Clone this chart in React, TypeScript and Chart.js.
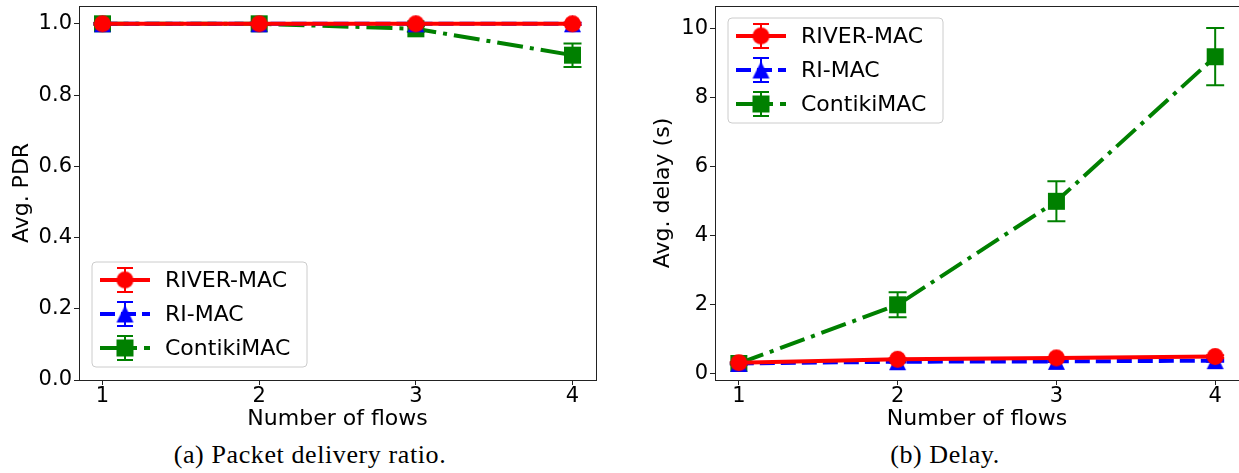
import React, { useEffect, useRef } from "react";
import { Chart, registerables } from "chart.js";

Chart.register(...registerables);

// ---------------- data ----------------
const FLOWS = [1, 2, 3, 4];
const X_TICKS = [1, 2, 3, 4];
const SERIES_NAMES = ["RIVER-MAC", "RI-MAC", "ContikiMAC"];

const PDR_RIVER = [1.0, 1.0, 1.0, 1.0];
const PDR_RIVER_ERR = [0.002, 0.002, 0.002, 0.003];
const PDR_RIMAC = [1.0, 1.0, 1.0, 1.0];
const PDR_RIMAC_ERR = [0.002, 0.002, 0.002, 0.003];
const PDR_CONTIKI = [1.0, 1.0, 0.986, 0.912];
const PDR_CONTIKI_ERR = [0.003, 0.003, 0.008, 0.033];
const PDR_TICKS = [0, 0.2, 0.4, 0.6, 0.8, 1.0];

const DELAY_RIVER = [0.3, 0.4, 0.44, 0.48];
const DELAY_RIVER_ERR = [0.02, 0.03, 0.03, 0.04];
const DELAY_RIMAC = [0.28, 0.33, 0.34, 0.36];
const DELAY_RIMAC_ERR = [0.02, 0.02, 0.02, 0.03];
const DELAY_CONTIKI = [0.28, 1.98, 4.98, 9.17];
const DELAY_CONTIKI_ERR = [0.03, 0.36, 0.58, 0.83];
const DELAY_TICKS = [0, 2, 4, 6, 8, 10];

const CAPTION_A = "(a) Packet delivery ratio.";
const CAPTION_B = "(b) Delay.";

// ---------------- styling ----------------
const COLORS = ["#ff0000", "#0000ff", "#008000"];
const MARKERS = ["circle", "triangle", "square"];
const DASHES: number[][] = [[], [15, 6], [26, 7, 4, 7]];
const ORDERS = [0, 1, 2];
const FONT = "'DejaVu Sans', sans-serif";

function makeMarker(shape: string, color: string, size = 17) {
  const s = size + 2;
  const c = document.createElement("canvas");
  c.width = s;
  c.height = s;
  const ctx = c.getContext("2d")!;
  ctx.fillStyle = color;
  const h = size / 2;
  const cx = s / 2;
  const cy = s / 2;
  ctx.beginPath();
  if (shape === "circle") ctx.arc(cx, cy, h, 0, Math.PI * 2);
  else if (shape === "square") ctx.rect(cx - h, cy - h, size, size);
  else {
    ctx.moveTo(cx, cy - h);
    ctx.lineTo(cx + h, cy + h);
    ctx.lineTo(cx - h, cy + h);
    ctx.closePath();
  }
  ctx.fill();
  return c;
}

function buildDatasets(values: number[][], errors: number[][]) {
  return values.map((vals, i) => ({
    label: SERIES_NAMES[i],
    data: FLOWS.map((x, j) => ({ x, y: vals[j] })),
    errors: errors[i],
    borderColor: COLORS[i],
    backgroundColor: COLORS[i],
    borderWidth: 4,
    borderDash: DASHES[i],
    borderCapStyle: "butt",
    pointStyle: makeMarker(MARKERS[i], COLORS[i]),
    pointRadius: 8,
    pointHoverRadius: 8,
    tension: 0,
    fill: false,
    clip: false,
    order: ORDERS[i],
  }));
}

function drawErrorBar(ctx: CanvasRenderingContext2D, x: number, yTop: number, yBot: number, color: string, capHalf: number) {
  ctx.save();
  ctx.strokeStyle = color;
  ctx.lineWidth = 2;
  ctx.setLineDash([]);
  ctx.beginPath();
  ctx.moveTo(x, yTop);
  ctx.lineTo(x, yBot);
  ctx.moveTo(x - capHalf, yTop);
  ctx.lineTo(x + capHalf, yTop);
  ctx.moveTo(x - capHalf, yBot);
  ctx.lineTo(x + capHalf, yBot);
  ctx.stroke();
  ctx.restore();
}

function makePlugin(legendCorner: "lowerLeft" | "upperLeft") {
  return {
    id: "decor",
    beforeDatasetsDraw(chart: any) {
      const { ctx } = chart;
      const xs = chart.scales.x;
      const ys = chart.scales.y;
      const dsList = chart.data.datasets.map((d: any, i: number) => ({ d, i }));
      dsList.sort((a: any, b: any) => b.d.order - a.d.order);
      dsList.forEach(({ d }: any) => {
        d.data.forEach((p: any, j: number) => {
          const e = d.errors[j];
          const px = xs.getPixelForValue(p.x);
          drawErrorBar(ctx, px, ys.getPixelForValue(p.y + e), ys.getPixelForValue(p.y - e), d.borderColor, 9);
        });
      });
    },
    afterDatasetsDraw(chart: any) {
      const { ctx, chartArea } = chart;
      const { left, right, top, bottom } = chartArea;
      // frame
      ctx.save();
      ctx.strokeStyle = "#222";
      ctx.lineWidth = 1;
      ctx.setLineDash([]);
      ctx.strokeRect(Math.round(left) + 0.5, Math.round(top) + 0.5, Math.round(right - left), Math.round(bottom - top));
      ctx.restore();

      // legend
      const w = 215;
      const h = 105;
      const lx = left + 13;
      const ly = legendCorner === "lowerLeft" ? bottom - 13 - h : top + 12;
      ctx.save();
      ctx.beginPath();
      const r = 4;
      ctx.moveTo(lx + r, ly);
      ctx.arcTo(lx + w, ly, lx + w, ly + h, r);
      ctx.arcTo(lx + w, ly + h, lx, ly + h, r);
      ctx.arcTo(lx, ly + h, lx, ly, r);
      ctx.arcTo(lx, ly, lx + w, ly, r);
      ctx.closePath();
      ctx.fillStyle = "rgba(255,255,255,0.8)";
      ctx.fill();
      ctx.strokeStyle = "#cccccc";
      ctx.lineWidth = 1;
      ctx.stroke();
      chart.data.datasets.forEach((d: any, i: number) => {
        const cy = ly + 18 + i * 34;
        const x0 = lx + 8;
        const x1 = lx + 58;
        const cx = (x0 + x1) / 2;
        ctx.save();
        ctx.strokeStyle = d.borderColor;
        ctx.lineWidth = 4;
        ctx.lineCap = "butt";
        ctx.setLineDash(d.borderDash);
        ctx.beginPath();
        ctx.moveTo(x0, cy);
        ctx.lineTo(x1, cy);
        ctx.stroke();
        ctx.restore();
        drawErrorBar(ctx, cx, cy - 12, cy + 12, d.borderColor, 8);
        const m = d.pointStyle;
        ctx.drawImage(m, cx - m.width / 2, cy - m.height / 2);
        ctx.fillStyle = "#000";
        ctx.font = `22px ${FONT}`;
        ctx.textBaseline = "middle";
        ctx.textAlign = "left";
        ctx.fillText(d.label, lx + 73, cy + 1);
      });
      ctx.restore();
    },
  };
}

function zeroPad(s: any) {
  s.paddingTop = 0;
  s.paddingBottom = 0;
  s.paddingLeft = 0;
  s.paddingRight = 0;
}

function buildConfig(opts: {
  values: number[][];
  errors: number[][];
  yMin: number;
  yMax: number;
  yTicks: number[];
  yFmt: (v: number) => string;
  yTitle: string;
  yWidth: number;
  yTitlePad: number;
  padRight: number;
  legendCorner: "lowerLeft" | "upperLeft";
}) {
  return {
    type: "line",
    data: { datasets: buildDatasets(opts.values, opts.errors) },
    options: {
      responsive: false,
      devicePixelRatio: 1,
      animation: false,
      events: [],
      layout: { autoPadding: false, padding: { top: 6, right: opts.padRight, left: 0, bottom: 0 } },
      plugins: { legend: { display: false }, tooltip: { enabled: false } },
      scales: {
        x: {
          type: "linear",
          min: 0.85,
          max: 4.15,
          afterBuildTicks: (s: any) => {
            s.ticks = X_TICKS.map((v) => ({ value: v }));
          },
          afterFit: (s: any) => {
            s.height = 60;
            zeroPad(s);
          },
          grid: { display: true, drawOnChartArea: false, drawTicks: true, tickLength: 5, tickColor: "#222", tickWidth: 1 },
          border: { display: false },
          ticks: {
            color: "#000",
            padding: 0,
            maxRotation: 0,
            font: { family: FONT, size: 21, lineHeight: 1.1 },
            callback: (v: number) => String(v),
          },
          title: {
            display: true,
            text: "Number of flows",
            color: "#000",
            font: { family: FONT, size: 22 },
            padding: { top: 0, bottom: 8 },
          },
        },
        y: {
          type: "linear",
          min: opts.yMin,
          max: opts.yMax,
          afterBuildTicks: (s: any) => {
            s.ticks = opts.yTicks.map((v) => ({ value: v }));
          },
          afterFit: (s: any) => {
            s.width = opts.yWidth;
            zeroPad(s);
          },
          grid: { display: true, drawOnChartArea: false, drawTicks: true, tickLength: 5, tickColor: "#222", tickWidth: 1 },
          border: { display: false },
          ticks: {
            color: "#000",
            padding: 2,
            font: { family: FONT, size: 21 },
            callback: (v: number) => opts.yFmt(v),
          },
          title: {
            display: true,
            text: opts.yTitle,
            color: "#000",
            font: { family: FONT, size: 22 },
            padding: { top: opts.yTitlePad, bottom: 0 },
          },
        },
      },
    },
    plugins: [makePlugin(opts.legendCorner)],
  };
}

function ChartBox(props: { left: number; width: number; height: number; config: () => any }) {
  const ref = useRef<HTMLCanvasElement | null>(null);
  useEffect(() => {
    if (!ref.current) return;
    const chart = new Chart(ref.current, props.config() as any);
    return () => chart.destroy();
  }, []);
  return (
    <canvas
      ref={ref}
      width={props.width}
      height={props.height}
      style={{ position: "absolute", left: props.left, top: 0, width: props.width, height: props.height }}
    />
  );
}

export default function App() {
  const captionStyle: React.CSSProperties = {
    position: "absolute",
    top: 442,
    height: 26,
    lineHeight: "26px",
    fontFamily: "'Liberation Serif', serif",
    fontSize: 26,
    letterSpacing: "0.6px",
    color: "#000",
    whiteSpace: "nowrap",
    transform: "translateX(-50%)",
  };
  return (
    <div style={{ position: "absolute", left: 0, top: 0, width: 1239, height: 473, background: "#fff", overflow: "hidden" }}>
      <ChartBox
        left={0}
        width={620}
        height={440}
        config={() =>
          buildConfig({
            values: [PDR_RIVER, PDR_RIMAC, PDR_CONTIKI],
            errors: [PDR_RIVER_ERR, PDR_RIMAC_ERR, PDR_CONTIKI_ERR],
            yMin: 0,
            yMax: 1.05,
            yTicks: PDR_TICKS,
            yFmt: (v) => v.toFixed(1),
            yTitle: "Avg. PDR",
            yWidth: 79,
            yTitlePad: 9,
            padRight: 24,
            legendCorner: "lowerLeft",
          })
        }
      />
      <ChartBox
        left={640}
        width={599}
        height={440}
        config={() =>
          buildConfig({
            values: [DELAY_RIVER, DELAY_RIMAC, DELAY_CONTIKI],
            errors: [DELAY_RIVER_ERR, DELAY_RIMAC_ERR, DELAY_CONTIKI_ERR],
            yMin: -0.2,
            yMax: 10.64,
            yTicks: DELAY_TICKS,
            yFmt: (v) => String(Math.round(v)),
            yTitle: "Avg. delay (s)",
            yWidth: 75,
            yTitlePad: 10,
            padRight: 0,
            legendCorner: "upperLeft",
          })
        }
      />
      <div style={{ ...captionStyle, left: 310 }}>{CAPTION_A}</div>
      <div style={{ ...captionStyle, left: 945 }}>{CAPTION_B}</div>
    </div>
  );
}
